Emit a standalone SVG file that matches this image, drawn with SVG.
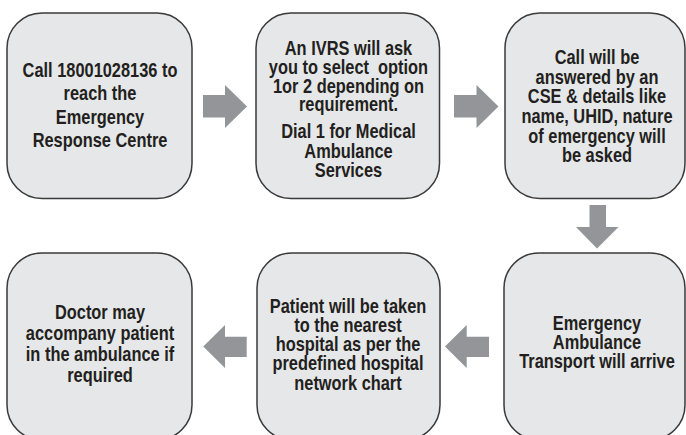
<svg xmlns="http://www.w3.org/2000/svg" width="686" height="435" viewBox="0 0 686 435">
<style>
.box{fill:#e6e7e8;stroke:#3a3a3a;stroke-width:1.5}
.arr{fill:#939598}
text{font-family:"Liberation Sans",Arial,sans-serif;font-weight:bold;font-size:20px;fill:#231f20;text-anchor:middle}
</style>
<rect width="686" height="435" fill="#ffffff"/>
<g id="connectors">
<polygon class="arr" points="203,95 225,95 225,85 247,106.5 225,128 225,117.5 203,117.5"/>
<polygon class="arr" points="454,95 476.5,95 476.5,85 498.5,106.5 476.5,128 476.5,117.5 454,117.5"/>
<polygon class="arr" points="589.5,205 606,205 606,227 618.5,227 597,248.5 576,227 589.5,227"/>
<polygon class="arr" points="489,336.7 466.7,336.7 466.7,325 445,346.5 466.7,368 466.7,357 489,357"/>
<polygon class="arr" points="246.7,336.7 225,336.7 225,325 203.3,346.5 225,368 225,357 246.7,357"/>
</g>
<g id="node1">
<rect class="box" x="7" y="13" width="185" height="185.5" rx="35"/>
<g transform="translate(100 0) scale(0.82 1)">
<text x="0" y="76.7">Call 18001028136 to</text>
<text x="0" y="100.5">reach the</text>
<text x="0" y="124">Emergency</text>
<text x="0" y="147">Response Centre</text>
</g>
</g>
<g id="node2">
<rect class="box" x="256" y="13" width="183.5" height="185.5" rx="35"/>
<g transform="translate(348.5 0) scale(0.82 1)">
<text x="0" y="55">An IVRS will ask</text>
<text x="0" y="74" xml:space="preserve">you to select  option</text>
<text x="0" y="93">1or 2 depending on</text>
<text x="0" y="111.5">requirement.</text>
<text x="0" y="138.5">Dial 1 for Medical</text>
<text x="0" y="158">Ambulance</text>
<text x="0" y="177.5">Services</text>
</g>
</g>
<g id="node3">
<rect class="box" x="505" y="13" width="180" height="185.5" rx="35"/>
<g transform="translate(597 0) scale(0.82 1)">
<text x="0" y="64.5">Call will be</text>
<text x="0" y="84">answered by an</text>
<text x="0" y="103.5">CSE &amp; details like</text>
<text x="0" y="123">name, UHID, nature</text>
<text x="0" y="142.7">of emergency will</text>
<text x="0" y="162.5">be asked</text>
</g>
</g>
<g id="node4">
<rect class="box" x="504" y="253" width="181" height="187" rx="35"/>
<g transform="translate(597 0) scale(0.82 1)">
<text x="0" y="330">Emergency</text>
<text x="0" y="349.3">Ambulance</text>
<text x="0" y="368.5">Transport will arrive</text>
</g>
</g>
<g id="node5">
<rect class="box" x="257" y="253" width="183" height="187" rx="35"/>
<g transform="translate(348 0) scale(0.82 1)">
<text x="0" y="312.7">Patient will be taken</text>
<text x="0" y="331.7">to the nearest</text>
<text x="0" y="351">hospital as per the</text>
<text x="0" y="370.3">predefined hospital</text>
<text x="0" y="389.7">network chart</text>
</g>
</g>
<g id="node6">
<rect class="box" x="7" y="253" width="185" height="187" rx="35"/>
<g transform="translate(100 0) scale(0.82 1)">
<text x="0" y="319.5">Doctor may</text>
<text x="0" y="340.5">accompany patient</text>
<text x="0" y="361.5">in the ambulance if</text>
<text x="0" y="382.5">required</text>
</g>
</g>
</svg>
